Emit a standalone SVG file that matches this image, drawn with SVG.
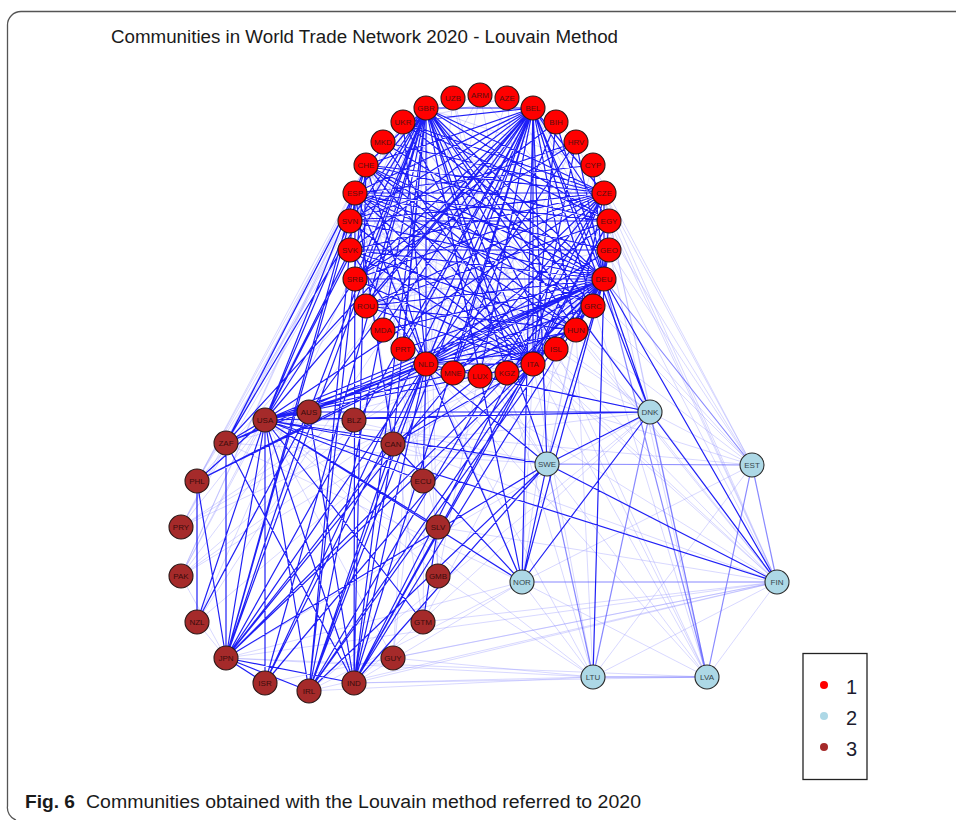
<svg xmlns="http://www.w3.org/2000/svg" width="956" height="820" viewBox="0 0 956 820">
<style>
.s{fill:none;stroke:#0000f5;stroke-width:1.2;stroke-opacity:.88}
.m{fill:none;stroke:#3a3aff;stroke-width:1.2;stroke-opacity:.6}
.f{fill:none;stroke:#8f8fff;stroke-width:1;stroke-opacity:.35}
.r circle{fill:#ff0000;stroke:#2b1a1a;stroke-width:1.1}
.b circle{fill:#a52a2a;stroke:#2b1a1a;stroke-width:1.1}
.l circle{fill:#add8e6;stroke:#2b2b2b;stroke-width:1.1}
text.n{font-family:"Liberation Sans",Arial,sans-serif;font-size:8px;text-anchor:middle}
.r text{fill:#5a0f0f}
.b text{fill:#3a0c0c}
.l text{fill:#36464c}
</style>
<rect width="956" height="820" fill="#ffffff"/>
<path d="M956 11.5H21A13.5 13.5 0 0 0 7.5 25V806A13 13 0 0 0 16 820" fill="none" stroke="#555" stroke-width="1.3"/>
<text x="111" y="43" font-family="'Liberation Sans',Arial,sans-serif" font-size="18" fill="#1a1a1a" textLength="507" lengthAdjust="spacingAndGlyphs">Communities in World Trade Network 2020 - Louvain Method</text>
<g id="edges">
<path class="f" d="M480 95L609 250M480 95L366 306M480 95L403 122M480 95L533 364M480 95L426 364M507 98L609 250M507 98L403 122M507 98L533 364M507 98L426 364M453 98L507 373M453 98L403 122M453 98L533 364M453 98L426 364M507 373L403 122M383 330L403 122M556 122L576 142M556 122L350 221M556 122L533 364M383 142L355 279M383 142L593 306M383 142L350 221M453 373L355 279M453 373L576 142M453 373L533 364M593 165L593 306M593 165L426 108M593 165L533 364M593 165L426 364M609 221L593 306M556 349L426 364M556 349L355 193M556 349L366 165M480 376L426 364M480 376L366 165M480 376L355 193M480 376L533 364M480 376L604 193M403 349L355 193M403 349L533 364M403 349L366 165M403 349L426 364M609 250L403 122M609 250L366 306M576 330L350 250M576 330L350 221M576 330L366 306M576 330L355 279M576 330L403 122M355 279L366 306M366 306L593 306M366 306L383 330M366 306L403 122M366 165L350 221M366 165L355 193M593 306L355 279M576 142L576 330M576 142L350 250M350 250L403 122M350 250L350 221M383 330L533 364M507 373L609 250M426 108L181 576M426 108L197 622M426 108L197 481M426 108L181 527M403 122L197 481M403 122L226 443M366 165L197 481M366 165L181 576M366 165L226 443M355 193L181 576M355 193L197 481M355 193L181 527M355 193L226 443M350 221L181 527M604 279L181 576M604 279L181 527M604 279L197 622M426 364L181 527M426 364L181 576M533 364L181 576M533 364L181 527M533 364L226 443M533 108L181 576M533 108L197 481M533 108L197 622M426 108L393 658M426 364L393 658M426 364L438 576M426 108L438 576M533 108L438 576M426 364L423 622M355 193L423 622M355 193L423 481M355 193L438 527M604 279L423 481M604 279L423 622M265 420L181 576M265 420L181 527M265 420L393 658M265 420L438 576M265 420L354 420M226 658L197 622M226 658L181 576M226 658L522 582M226 658L777 582M226 658L650 412M226 658L593 677M354 683L522 582M354 683L777 582M354 683L650 412M354 683L593 677M354 683L707 677M309 691L522 582M309 691L777 582M309 691L650 412M309 691L593 677M265 683L777 582M393 658L777 582M393 658L593 677M393 444L777 582M393 444L650 412M393 444L547 464M309 412L547 464M226 443L547 464M226 443L522 582M423 622L777 582M438 527L777 582M265 420L593 677M265 420L752 465M438 576L593 677M226 658L707 677M593 306L752 465M576 330L752 465M604 193L752 465M609 250L752 465M609 221L777 582M576 330L777 582M533 364L777 582M426 364L777 582M426 108L777 582M533 108L777 582M533 108L752 465M556 349L707 677M533 364L593 677M426 364L593 677M576 330L593 677M604 193L707 677M609 250L707 677M533 364L707 677M426 108L752 465M426 364L752 465M426 364L707 677M533 364L522 582M533 364L650 412M355 193L522 582M355 193L547 464M355 193L777 582M355 193L650 412M366 165L547 464M366 165L777 582M604 193L547 464M604 193L650 412M604 193L777 582M576 330L547 464M556 349L522 582M556 349L650 412M480 376L650 412M576 142L777 582M593 165L752 465M533 108L707 677M426 108L593 677M403 122L777 582M426 108L707 677M547 464L707 677M522 582L593 677M522 582L707 677M522 582L752 465M777 582L593 677M777 582L707 677M650 412L752 465M752 465L593 677"/>
<path class="m" d="M522 582L777 582M593 677L707 677M752 465L777 582M752 465L707 677M547 464L752 465M547 464L593 677M650 412L593 677M650 412L707 677M604 279L752 465M604 279L707 677"/>
<path class="s" d="M426 108L533 108M426 108L426 364M426 108L604 279M426 108L355 193M426 108L533 364M426 108L366 165M426 108L604 193M426 108L350 221M426 108L593 306M426 108L556 349M426 108L480 376M426 108L609 221M426 108L576 330M426 108L366 306M426 108L403 349M426 108L355 279M426 108L507 373M533 108L533 364M533 108L604 279M533 108L426 364M533 108L355 193M533 108L366 165M533 108L604 193M533 108L480 376M533 108L350 221M533 108L350 250M533 108L403 349M533 108L383 330M533 108L576 330M533 108L366 306M533 108L593 306M533 108L609 221M533 108L403 122M533 108L355 279M533 108L453 373M604 279L355 193M604 279L350 221M604 279L350 250M604 279L355 279M604 279L366 306M604 279L383 330M604 279L403 349M604 279L426 364M604 279L366 165M604 279L604 193M604 279L576 330M604 279L533 364M604 279L480 376M604 279L453 373M604 279L403 122M604 279L383 142M604 279L576 142M604 279L556 122M604 279L593 306M604 279L609 250M604 279L609 221M604 279L593 165M604 279L507 373M604 279L556 349M426 364L355 193M426 364L366 165M426 364L533 364M426 364L604 193M426 364L609 221M426 364L609 250M426 364L576 330M426 364L403 122M426 364L350 250M426 364L593 306M426 364L556 349M426 364L576 142M533 364L355 193M533 364L366 165M533 364L350 221M533 364L383 142M533 364L576 142M533 364L604 193M533 364L593 306M533 364L366 306M533 364L355 279M533 364L403 122M533 364L350 250M533 364L609 221M533 364L556 122M355 193L604 193M355 193L609 221M355 193L609 250M355 193L593 165M355 193L576 330M355 193L593 306M366 165L604 193M366 165L609 221M366 165L576 330M366 165L593 306M604 193L350 250M604 193L350 221M604 193L576 330M604 193L403 122M604 193L366 306M604 193L355 279M604 193L383 142M403 122L609 221M576 142L350 221M576 142L355 279M556 122L355 279M556 122L453 373M350 221L609 221M350 250L609 250M366 306L609 221M576 330L350 250M576 330L366 306M265 420L426 108M265 420L604 279M265 420L426 364M265 420L533 108M265 420L533 364M265 420L355 193M265 420L366 165M265 420L604 193M265 420L309 691M265 420L226 658M265 420L354 683M265 420L265 683M265 420L393 444M265 420L309 412M265 420L226 443M265 420L197 481M265 420L197 622M265 420L423 622M265 420L438 527M265 420L423 481M265 420L547 464M265 420L777 582M265 420L650 412M265 420L522 582M265 420L576 330M265 420L556 349M265 420L350 221M265 420L350 250M265 420L355 279M226 658L309 412M226 658L393 444M226 658L354 683M226 658L309 691M226 658L265 683M226 658L197 481M226 658L226 443M226 658L604 279M226 658L426 364M226 658L426 108M226 658L533 108M226 658L533 364M226 658L366 165M226 658L355 193M226 658L547 464M226 658L604 193M354 683L309 412M354 683L604 279M354 683L426 364M354 683L426 108M354 683L533 108M354 683L533 364M354 683L366 165M354 683L355 193M354 683L609 221M354 683L547 464M354 683L393 444M354 683L604 193M354 683L226 443M309 691L426 108M309 691L533 108M309 691L604 279M309 691L426 364M309 691L366 165M309 691L533 364M309 691L355 193M309 691L393 444M309 691L547 464M309 691L604 193M393 444L426 108M393 444L604 279M393 444L426 364M393 444L533 108M393 444L533 364M393 444L522 582M393 444L355 193M309 412L197 622M309 412L426 108M309 412L604 279M309 412L426 364M309 412L533 108M309 412L650 412M226 443L426 108M226 443L604 279M226 443L426 364M226 443L533 108M226 443L355 193M197 481L426 364M197 481L604 279M197 481L197 622M265 683L604 279M265 683L426 108M265 683L426 364M265 683L533 108M423 481L426 364M423 622L438 527M650 412L547 464M650 412L522 582M650 412L777 582M650 412L604 279M650 412L426 108M650 412L426 364M650 412L533 108M547 464L522 582M547 464L777 582M547 464L604 279M547 464L426 108M547 464L426 364M547 464L533 108M522 582L426 108M522 582L426 364M522 582L604 279M522 582L533 108M777 582L604 279M593 677L604 279"/>
</g>
<g id="nodes">
<g id="ARM" class="r"><circle cx="480" cy="95" r="12"/><text class="n" x="480" y="97.8">ARM</text></g>
<g id="AZE" class="r"><circle cx="507" cy="98" r="12"/><text class="n" x="507" y="100.8">AZE</text></g>
<g id="BEL" class="r"><circle cx="533" cy="108" r="12"/><text class="n" x="533" y="110.8">BEL</text></g>
<g id="BIH" class="r"><circle cx="556" cy="122" r="12"/><text class="n" x="556" y="124.8">BIH</text></g>
<g id="HRV" class="r"><circle cx="576" cy="142" r="12"/><text class="n" x="576" y="144.8">HRV</text></g>
<g id="CYP" class="r"><circle cx="593" cy="165" r="12"/><text class="n" x="593" y="167.8">CYP</text></g>
<g id="CZE" class="r"><circle cx="604" cy="193" r="12"/><text class="n" x="604" y="195.8">CZE</text></g>
<g id="EGY" class="r"><circle cx="609" cy="221" r="12"/><text class="n" x="609" y="223.8">EGY</text></g>
<g id="GEO" class="r"><circle cx="609" cy="250" r="12"/><text class="n" x="609" y="252.8">GEO</text></g>
<g id="DEU" class="r"><circle cx="604" cy="279" r="12"/><text class="n" x="604" y="281.8">DEU</text></g>
<g id="GRC" class="r"><circle cx="593" cy="306" r="12"/><text class="n" x="593" y="308.8">GRC</text></g>
<g id="HUN" class="r"><circle cx="576" cy="330" r="12"/><text class="n" x="576" y="332.8">HUN</text></g>
<g id="ISL" class="r"><circle cx="556" cy="349" r="12"/><text class="n" x="556" y="351.8">ISL</text></g>
<g id="ITA" class="r"><circle cx="533" cy="364" r="12"/><text class="n" x="533" y="366.8">ITA</text></g>
<g id="KGZ" class="r"><circle cx="507" cy="373" r="12"/><text class="n" x="507" y="375.8">KGZ</text></g>
<g id="LUX" class="r"><circle cx="480" cy="376" r="12"/><text class="n" x="480" y="378.8">LUX</text></g>
<g id="MNE" class="r"><circle cx="453" cy="373" r="12"/><text class="n" x="453" y="375.8">MNE</text></g>
<g id="NLD" class="r"><circle cx="426" cy="364" r="12"/><text class="n" x="426" y="366.8">NLD</text></g>
<g id="PRT" class="r"><circle cx="403" cy="349" r="12"/><text class="n" x="403" y="351.8">PRT</text></g>
<g id="MDA" class="r"><circle cx="383" cy="330" r="12"/><text class="n" x="383" y="332.8">MDA</text></g>
<g id="ROU" class="r"><circle cx="366" cy="306" r="12"/><text class="n" x="366" y="308.8">ROU</text></g>
<g id="SRB" class="r"><circle cx="355" cy="279" r="12"/><text class="n" x="355" y="281.8">SRB</text></g>
<g id="SVK" class="r"><circle cx="350" cy="250" r="12"/><text class="n" x="350" y="252.8">SVK</text></g>
<g id="SVN" class="r"><circle cx="350" cy="221" r="12"/><text class="n" x="350" y="223.8">SVN</text></g>
<g id="ESP" class="r"><circle cx="355" cy="193" r="12"/><text class="n" x="355" y="195.8">ESP</text></g>
<g id="CHE" class="r"><circle cx="366" cy="165" r="12"/><text class="n" x="366" y="167.8">CHE</text></g>
<g id="MKD" class="r"><circle cx="383" cy="142" r="12"/><text class="n" x="383" y="144.8">MKD</text></g>
<g id="UKR" class="r"><circle cx="403" cy="122" r="12"/><text class="n" x="403" y="124.8">UKR</text></g>
<g id="GBR" class="r"><circle cx="426" cy="108" r="12"/><text class="n" x="426" y="110.8">GBR</text></g>
<g id="UZB" class="r"><circle cx="453" cy="98" r="12"/><text class="n" x="453" y="100.8">UZB</text></g>
<g id="AUS" class="b"><circle cx="309" cy="412" r="12"/><text class="n" x="309" y="414.8">AUS</text></g>
<g id="BLZ" class="b"><circle cx="354" cy="420" r="12"/><text class="n" x="354" y="422.8">BLZ</text></g>
<g id="CAN" class="b"><circle cx="393" cy="444" r="12"/><text class="n" x="393" y="446.8">CAN</text></g>
<g id="ECU" class="b"><circle cx="423" cy="481" r="12"/><text class="n" x="423" y="483.8">ECU</text></g>
<g id="SLV" class="b"><circle cx="438" cy="527" r="12"/><text class="n" x="438" y="529.8">SLV</text></g>
<g id="GMB" class="b"><circle cx="438" cy="576" r="12"/><text class="n" x="438" y="578.8">GMB</text></g>
<g id="GTM" class="b"><circle cx="423" cy="622" r="12"/><text class="n" x="423" y="624.8">GTM</text></g>
<g id="GUY" class="b"><circle cx="393" cy="658" r="12"/><text class="n" x="393" y="660.8">GUY</text></g>
<g id="IND" class="b"><circle cx="354" cy="683" r="12"/><text class="n" x="354" y="685.8">IND</text></g>
<g id="IRL" class="b"><circle cx="309" cy="691" r="12"/><text class="n" x="309" y="693.8">IRL</text></g>
<g id="ISR" class="b"><circle cx="265" cy="683" r="12"/><text class="n" x="265" y="685.8">ISR</text></g>
<g id="JPN" class="b"><circle cx="226" cy="658" r="12"/><text class="n" x="226" y="660.8">JPN</text></g>
<g id="NZL" class="b"><circle cx="197" cy="622" r="12"/><text class="n" x="197" y="624.8">NZL</text></g>
<g id="PAK" class="b"><circle cx="181" cy="576" r="12"/><text class="n" x="181" y="578.8">PAK</text></g>
<g id="PRY" class="b"><circle cx="181" cy="527" r="12"/><text class="n" x="181" y="529.8">PRY</text></g>
<g id="PHL" class="b"><circle cx="197" cy="481" r="12"/><text class="n" x="197" y="483.8">PHL</text></g>
<g id="ZAF" class="b"><circle cx="226" cy="443" r="12"/><text class="n" x="226" y="445.8">ZAF</text></g>
<g id="USA" class="b"><circle cx="265" cy="420" r="12"/><text class="n" x="265" y="422.8">USA</text></g>
<g id="DNK" class="l"><circle cx="650" cy="412" r="12"/><text class="n" x="650" y="414.8">DNK</text></g>
<g id="SWE" class="l"><circle cx="547" cy="464" r="12"/><text class="n" x="547" y="466.8">SWE</text></g>
<g id="EST" class="l"><circle cx="752" cy="465" r="12"/><text class="n" x="752" y="467.8">EST</text></g>
<g id="NOR" class="l"><circle cx="522" cy="582" r="12"/><text class="n" x="522" y="584.8">NOR</text></g>
<g id="FIN" class="l"><circle cx="777" cy="582" r="12"/><text class="n" x="777" y="584.8">FIN</text></g>
<g id="LTU" class="l"><circle cx="593" cy="677" r="12"/><text class="n" x="593" y="679.8">LTU</text></g>
<g id="LVA" class="l"><circle cx="707" cy="677" r="12"/><text class="n" x="707" y="679.8">LVA</text></g>
</g>
<g id="legend" font-family="'Liberation Sans',Arial,sans-serif" font-size="20" fill="#1c1c2e">
<rect x="803" y="653.5" width="64" height="126" fill="#fff" stroke="#222" stroke-width="1.3"/>
<circle cx="824" cy="685" r="4" fill="#ff0000"/>
<circle cx="824" cy="716" r="4" fill="#add8e6"/>
<circle cx="824" cy="747" r="4" fill="#a52a2a"/>
<text x="846" y="694">1</text>
<text x="846" y="725">2</text>
<text x="846" y="756">3</text>
</g>
<g id="caption" font-family="'Liberation Sans',Arial,sans-serif" font-size="18" fill="#1a1a1a">
<text x="25" y="808" font-weight="bold" textLength="50" lengthAdjust="spacingAndGlyphs">Fig. 6</text>
<text x="86" y="808" textLength="555" lengthAdjust="spacingAndGlyphs">Communities obtained with the Louvain method referred to 2020</text>
</g>
</svg>
